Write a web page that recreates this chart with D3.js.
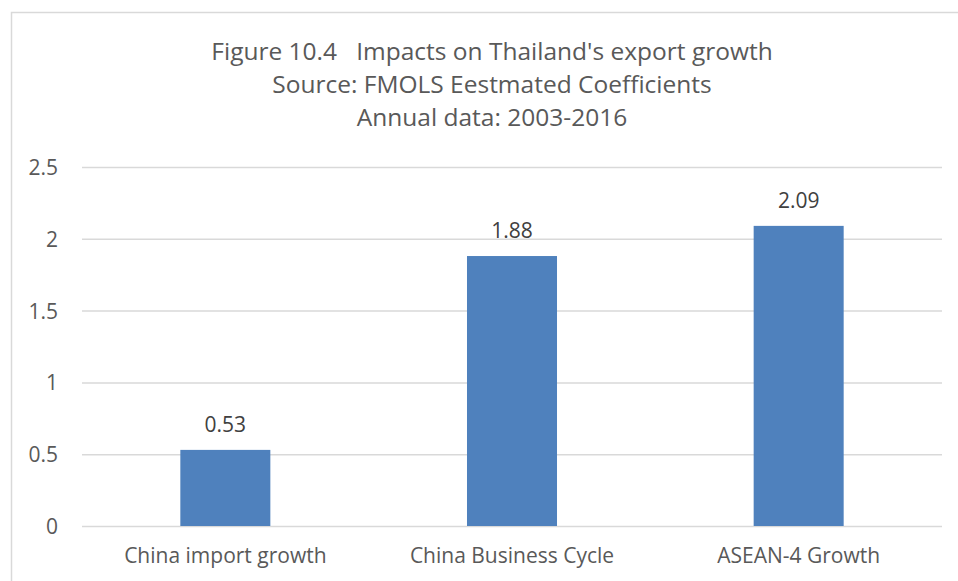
<!DOCTYPE html>
<html>
<head>
<meta charset="utf-8">
<script src="https://cdn.jsdelivr.net/npm/d3@7"></script>
<style>
  body { margin: 0; background: #fff; }
  text { font-family: "Open Sans", "Noto Sans", sans-serif; }
</style>
</head>
<body>
<div id="chart"></div>
<script>
// chart data
const categories = ["China import growth", "China Business Cycle", "ASEAN-4 Growth"]
const coefficients = [0.53, 1.88, 2.09]
const yTicks = [0, 0.5, 1, 1.5, 2, 2.5]
const titleLines = [
  "Figure 10.4   Impacts on Thailand's export growth",
  "Source: FMOLS Eestmated Coefficients",
  "Annual data: 2003-2016"
]

var width = 958
var height = 581
var plot = { left: 82, right: 942, top: 167, bottom: 526 }

var svg = d3.select("#chart").append("svg")
  .attr("width", width)
  .attr("height", height)

// outer chart border (runs off the picture on right and bottom)
svg.append("rect")
  .attr("x", 11.5)
  .attr("y", 12.5)
  .attr("width", 1000)
  .attr("height", 1000)
  .attr("fill", "#fff")
  .attr("stroke", "#d9d9d9")
  .attr("stroke-width", 1.5)

var yScale = d3.scaleLinear()
  .domain([0, 2.5])
  .range([plot.bottom, plot.top])

var xScale = d3.scaleBand()
  .domain(categories)
  .range([plot.left, plot.right])
  .paddingInner(0.686)
  .paddingOuter(0.343)

// gridlines + tick labels
var yAxis = d3.axisLeft(yScale)
  .tickValues(yTicks)
  .tickFormat(d3.format("~g"))
  .tickSize(-(plot.right - plot.left))
  .tickPadding(24)

var yAxisG = svg.append("g")
  .attr("transform", "translate(" + plot.left + ",0)")
  .call(yAxis)

yAxisG.select(".domain").remove()
yAxisG.selectAll(".tick line")
  .attr("stroke", "#d9d9d9")
  .attr("stroke-width", 1.5)
yAxisG.selectAll(".tick text")
  .attr("fill", "#595959")
  .style("font-size", "21px")
  .attr("dy", "0.36em")

// bars
svg.selectAll(".bar")
  .data(coefficients)
  .enter().append("rect")
  .attr("class", "bar")
  .attr("x", (d, i) => xScale(categories[i]))
  .attr("y", d => yScale(d))
  .attr("width", xScale.bandwidth())
  .attr("height", d => yScale(0) - yScale(d))
  .attr("fill", "#4f81bd")

// value labels
svg.selectAll(".value-label")
  .data(coefficients)
  .enter().append("text")
  .attr("class", "value-label")
  .attr("x", (d, i) => xScale(categories[i]) + xScale.bandwidth() / 2)
  .attr("y", d => yScale(d) - 18)
  .attr("text-anchor", "middle")
  .attr("fill", "#404040")
  .style("font-size", "21px")
  .text(d => d3.format(".2f")(d))

// category labels
var xAxis = d3.axisBottom(xScale)
  .tickSize(0)
  .tickPadding(22)

var xAxisG = svg.append("g")
  .attr("transform", "translate(0," + plot.bottom + ")")
  .call(xAxis)

xAxisG.select(".domain").remove()
xAxisG.selectAll(".tick text")
  .attr("fill", "#595959")
  .style("font-size", "21px")

// title
svg.selectAll(".title-line")
  .data(titleLines)
  .enter().append("text")
  .attr("class", "title-line")
  .attr("x", 492)
  .attr("y", (d, i) => 60 + i * 33)
  .attr("text-anchor", "middle")
  .attr("fill", "#595959")
  .style("font-size", "24.5px")
  .style("white-space", "pre")
  .text(d => d)
</script>
</body>
</html>
